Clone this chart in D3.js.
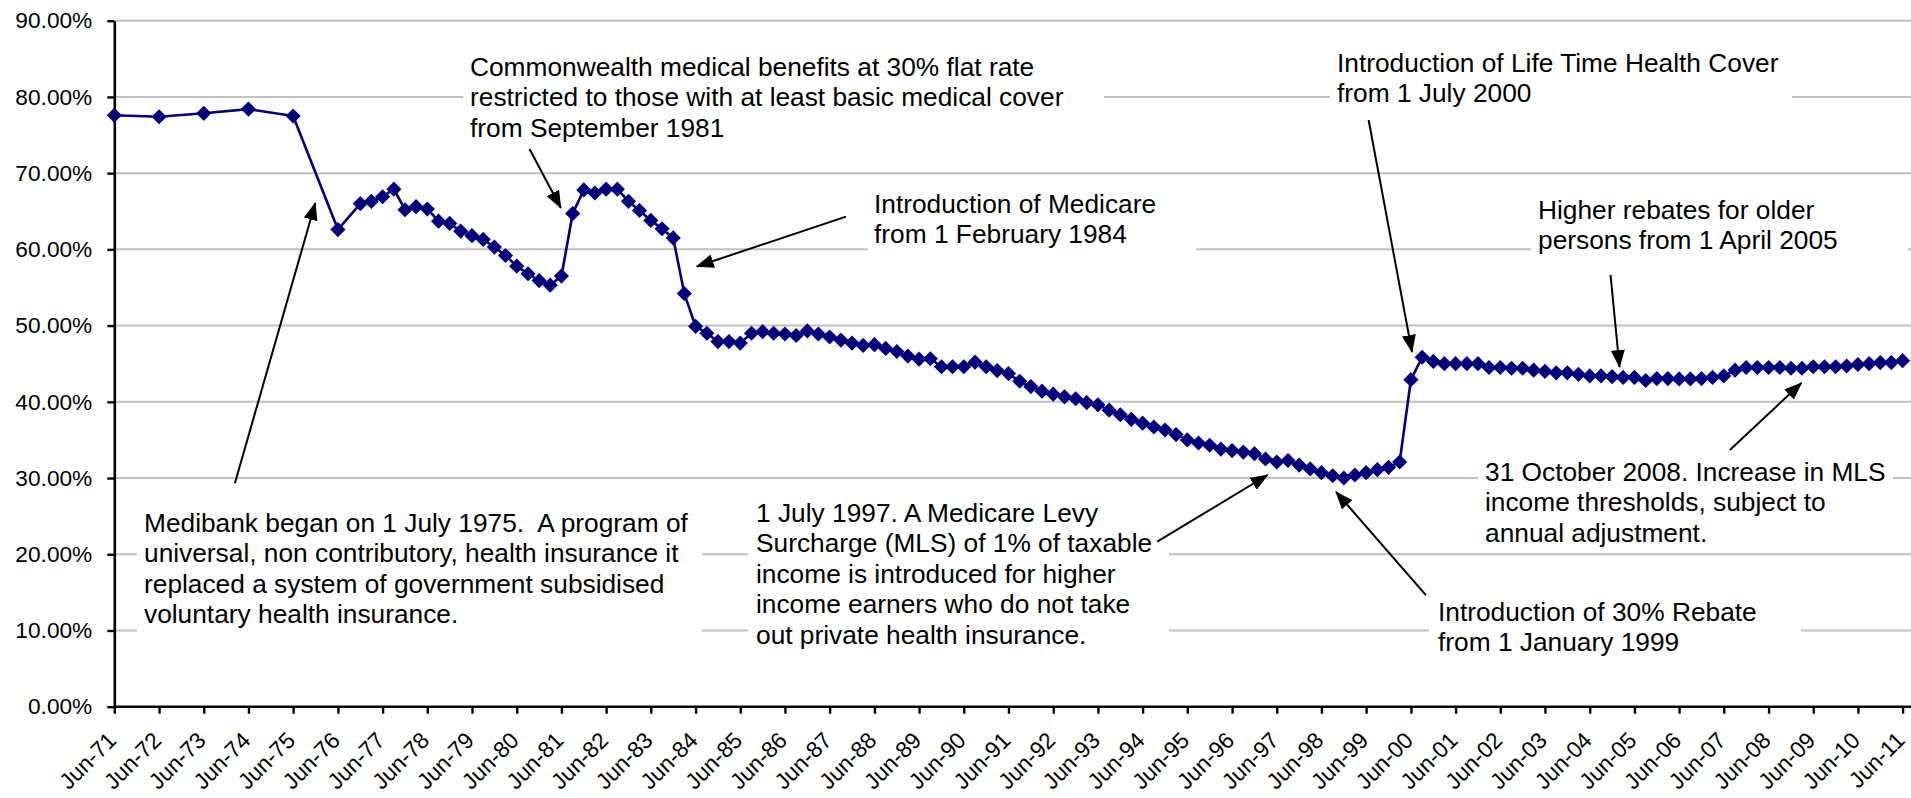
<!DOCTYPE html>
<html>
<head>
  <meta charset="utf-8">
  <title>Private health insurance coverage</title>
  <style>
    body { margin: 0; background: #fff; }
    text { font-family: "Liberation Sans", Arial, sans-serif; }
  </style>
</head>
<body>
  <svg id="main" width="1911" height="798"></svg>

  <script src="https://cdn.jsdelivr.net/npm/d3@7"></script>
  <script>

    // periods: annual to Jun-76, then quarterly
    const periods = [
      'Jun-71', 'Jun-72', 'Jun-73', 'Jun-74', 'Jun-75', 'Jun-76', 'Dec-76',
      'Mar-77', 'Jun-77', 'Sep-77', 'Dec-77',
      'Mar-78', 'Jun-78', 'Sep-78', 'Dec-78',
      'Mar-79', 'Jun-79', 'Sep-79', 'Dec-79',
      'Mar-80', 'Jun-80', 'Sep-80', 'Dec-80',
      'Mar-81', 'Jun-81', 'Sep-81', 'Dec-81',
      'Mar-82', 'Jun-82', 'Sep-82', 'Dec-82',
      'Mar-83', 'Jun-83', 'Sep-83', 'Dec-83',
      'Mar-84', 'Jun-84', 'Sep-84', 'Dec-84',
      'Mar-85', 'Jun-85', 'Sep-85', 'Dec-85',
      'Mar-86', 'Jun-86', 'Sep-86', 'Dec-86',
      'Mar-87', 'Jun-87', 'Sep-87', 'Dec-87',
      'Mar-88', 'Jun-88', 'Sep-88', 'Dec-88',
      'Mar-89', 'Jun-89', 'Sep-89', 'Dec-89',
      'Mar-90', 'Jun-90', 'Sep-90', 'Dec-90',
      'Mar-91', 'Jun-91', 'Sep-91', 'Dec-91',
      'Mar-92', 'Jun-92', 'Sep-92', 'Dec-92',
      'Mar-93', 'Jun-93', 'Sep-93', 'Dec-93',
      'Mar-94', 'Jun-94', 'Sep-94', 'Dec-94',
      'Mar-95', 'Jun-95', 'Sep-95', 'Dec-95',
      'Mar-96', 'Jun-96', 'Sep-96', 'Dec-96',
      'Mar-97', 'Jun-97', 'Sep-97', 'Dec-97',
      'Mar-98', 'Jun-98', 'Sep-98', 'Dec-98',
      'Mar-99', 'Jun-99', 'Sep-99', 'Dec-99',
      'Mar-00', 'Jun-00', 'Sep-00', 'Dec-00',
      'Mar-01', 'Jun-01', 'Sep-01', 'Dec-01',
      'Mar-02', 'Jun-02', 'Sep-02', 'Dec-02',
      'Mar-03', 'Jun-03', 'Sep-03', 'Dec-03',
      'Mar-04', 'Jun-04', 'Sep-04', 'Dec-04',
      'Mar-05', 'Jun-05', 'Sep-05', 'Dec-05',
      'Mar-06', 'Jun-06', 'Sep-06', 'Dec-06',
      'Mar-07', 'Jun-07', 'Sep-07', 'Dec-07',
      'Mar-08', 'Jun-08', 'Sep-08', 'Dec-08',
      'Mar-09', 'Jun-09', 'Sep-09', 'Dec-09',
      'Mar-10', 'Jun-10', 'Sep-10', 'Dec-10',
      'Mar-11', 'Jun-11'
    ]

    // % of population with hospital cover
    const coverage = [
      77.6, 77.4, 77.85, 78.4, 77.5, 62.6, 66.0,
      66.3, 66.9, 67.9, 65.2,
      65.6, 65.3, 63.7, 63.4,
      62.4, 61.8, 61.3, 60.3,
      59.2, 57.8, 56.8, 55.9,
      55.3, 56.5, 64.7, 67.8,
      67.4, 67.9, 67.9, 66.3,
      65.1, 63.8, 62.7, 61.5,
      54.2, 49.9, 49.0, 47.9,
      47.9, 47.7, 49.0, 49.2,
      49.0, 48.9, 48.7, 49.3,
      48.9, 48.5, 48.1, 47.7,
      47.4, 47.5, 47.0, 46.6,
      46.0, 45.6, 45.65, 44.6,
      44.6, 44.6, 45.2, 44.6,
      44.1, 43.7, 42.7, 42.0,
      41.4, 41.0, 40.65, 40.4,
      39.9, 39.6, 38.9, 38.3,
      37.7, 37.2, 36.7, 36.3,
      35.7, 35.0, 34.6, 34.3,
      33.8, 33.6, 33.4, 33.2,
      32.5, 32.1, 32.3, 31.7,
      31.2, 30.7, 30.3, 30.0,
      30.4, 30.7, 31.1, 31.4,
      32.1, 42.9, 45.85, 45.3,
      45.0, 45.0, 45.0, 45.0,
      44.5, 44.5, 44.4, 44.4,
      44.15, 44.0, 43.8, 43.8,
      43.6, 43.4, 43.4, 43.3,
      43.2, 43.2, 42.8, 43.05,
      43.05, 43.0, 43.0, 43.05,
      43.2, 43.4, 44.15, 44.5,
      44.5, 44.5, 44.5, 44.4,
      44.4, 44.6, 44.6, 44.6,
      44.7, 44.9, 45.0, 45.15,
      45.15, 45.4
    ]

    const xTickLabels = [
      'Jun-71', 'Jun-72', 'Jun-73', 'Jun-74', 'Jun-75', 'Jun-76', 'Jun-77', 'Jun-78',
      'Jun-79', 'Jun-80', 'Jun-81', 'Jun-82', 'Jun-83', 'Jun-84', 'Jun-85', 'Jun-86',
      'Jun-87', 'Jun-88', 'Jun-89', 'Jun-90', 'Jun-91', 'Jun-92', 'Jun-93', 'Jun-94',
      'Jun-95', 'Jun-96', 'Jun-97', 'Jun-98', 'Jun-99', 'Jun-00', 'Jun-01', 'Jun-02',
      'Jun-03', 'Jun-04', 'Jun-05', 'Jun-06', 'Jun-07', 'Jun-08', 'Jun-09', 'Jun-10',
      'Jun-11'
    ]

    const yTicks = [0, 10, 20, 30, 40, 50, 60, 70, 80, 90]

    // annotation texts
    const noteTexts = [
      ['Medibank began on 1 July 1975.  A program of',
        'universal, non contributory, health insurance it',
        'replaced a system of government subsidised',
        'voluntary health insurance.'],
      ['Commonwealth medical benefits at 30% flat rate',
        'restricted to those with at least basic medical cover',
        'from September 1981'],
      ['Introduction of Medicare',
        'from 1 February 1984'],
      ['1 July 1997. A Medicare Levy',
        'Surcharge (MLS) of 1% of taxable',
        'income is introduced for higher',
        'income earners who do not take',
        'out private health insurance.'],
      ['Introduction of Life Time Health Cover',
        'from 1 July 2000'],
      ['Higher rebates for older',
        'persons from 1 April 2005'],
      ['Introduction of 30% Rebate',
        'from 1 January 1999'],
      ['31 October 2008. Increase in MLS',
        'income thresholds, subject to',
        'annual adjustment.']
    ]

    // arrows in chart units: [decimal year, percent] from -> to
    const noteArrows = [
      [[1974.11, 29.31], [1975.91, 66.08]],
      [[1980.70, 73.17], [1981.40, 65.43]],
      [[1987.78, 64.29], [1984.44, 57.75]],
      [[1994.74, 21.65], [1997.21, 30.40]],
      [[1999.47, 76.97], [2000.44, 46.54]],
      [[2004.88, 56.64], [2005.08, 44.57]],
      [[2000.75, 14.65], [1998.74, 28.17]],
      [[2007.55, 33.68], [2009.15, 42.47]]
    ]

    // text box layout (pixels): text left, first baseline, white box
    const noteLayout = [
      { x: 144, y: 532, box: [137, 500, 702, 642] },
      { x: 470, y: 76, box: [463, 45, 1104, 150] },
      { x: 874, y: 213, box: [868, 184, 1196, 258] },
      { x: 756, y: 522, box: [748, 493, 1169, 656] },
      { x: 1337, y: 72, box: [1330, 42, 1792, 116] },
      { x: 1538, y: 219, box: [1531, 190, 1908, 260] },
      { x: 1438, y: 621, box: [1429, 592, 1801, 664] },
      { x: 1485, y: 481, box: [1478, 451, 1893, 552] }
    ]

    const svg = d3.select('#main')
    const plot = { left: 114.3, right: 1902.6, top: 20.7, bottom: 706.7, gridEnd: 1911 }
    const navy = '#000080'
    const axisFont = '22.7px'
    const noteFont = '26.3px'
    const lineGap = 30.4

    const parse = d3.timeParse('%b-%y')
    const data = periods.map((p, i) => ({ date: parse(p), value: coverage[i] }))

    const xScale = d3.scaleTime()
      .domain([parse(xTickLabels[0]), parse(xTickLabels[xTickLabels.length - 1])])
      .range([plot.left, plot.right])

    const yScale = d3.scaleLinear()
      .domain([0, 90])
      .range([plot.bottom, plot.top])

    function yearToDate(y) {
      const yr = Math.floor(y)
      const a = new Date(yr, 0, 1), b = new Date(yr + 1, 0, 1)
      return new Date(+a + (y - yr) * (b - a))
    }

    // arrowhead
    svg.append('defs').append('marker')
      .attr('id', 'head')
      .attr('viewBox', '0 0 18 14')
      .attr('refX', 17)
      .attr('refY', 7)
      .attr('markerWidth', 18)
      .attr('markerHeight', 14)
      .attr('markerUnits', 'userSpaceOnUse')
      .attr('orient', 'auto')
      .append('path')
      .attr('d', 'M0,0 L18,7 L0,14 Z')
      .attr('fill', '#000')

    // gridlines
    svg.append('g')
      .selectAll('line')
      .data(yTicks.filter(d => d > 0))
      .join('line')
      .attr('x1', plot.left)
      .attr('x2', plot.gridEnd)
      .attr('y1', d => yScale(d))
      .attr('y2', d => yScale(d))
      .attr('stroke', '#c0c0c0')
      .attr('stroke-width', 2)

    // white text boxes over the grid
    const notes = svg.append('g')
    noteLayout.forEach((n, i) => {
      const [x0, y0, x1, y1] = n.box
      notes.append('rect')
        .attr('x', x0).attr('y', y0)
        .attr('width', x1 - x0).attr('height', y1 - y0)
        .attr('fill', '#fff')
      const t = notes.append('text')
        .attr('font-size', noteFont)
        .attr('fill', '#000')
        .style('white-space', 'pre')
      t.selectAll('tspan')
        .data(noteTexts[i])
        .join('tspan')
        .attr('x', n.x)
        .attr('y', (d, j) => n.y + j * lineGap)
        .text(d => d)
    })

    // axes
    const yAxis = d3.axisLeft(yScale)
      .tickValues(yTicks)
      .tickFormat(d => d.toFixed(2) + '%')
      .tickSize(7)
      .tickSizeOuter(0)
      .tickPadding(15)

    const yg = svg.append('g')
      .attr('transform', `translate(${plot.left},0)`)
      .call(yAxis)

    const xAxis = d3.axisBottom(xScale)
      .tickValues(xTickLabels.map(parse))
      .tickFormat(d3.timeFormat('%b-%y'))
      .tickSize(7)
      .tickSizeOuter(0)

    const xg = svg.append('g')
      .attr('transform', `translate(0,${plot.bottom})`)
      .call(xAxis)

    xg.selectAll('.tick text')
      .attr('x', 0)
      .attr('y', 0)
      .attr('dy', null)
      .attr('text-anchor', 'end')
      .attr('transform', 'translate(3,35) rotate(-45)')

    xg.select('.domain').attr('d', `M${plot.left},0H${plot.gridEnd}`)

    for (const g of [xg, yg]) {
      g.selectAll('.domain').attr('stroke', '#000').attr('stroke-width', 2.6)
      g.selectAll('.tick line').attr('stroke', '#000').attr('stroke-width', 2.4)
      g.selectAll('.tick text')
        .attr('font-size', axisFont)
        .attr('font-family', '"Liberation Sans", Arial, sans-serif')
        .attr('fill', '#000')
    }

    // series
    const line = d3.line()
      .x(d => xScale(d.date))
      .y(d => yScale(d.value))

    svg.append('path')
      .datum(data)
      .attr('fill', 'none')
      .attr('stroke', navy)
      .attr('stroke-width', 2.6)
      .attr('stroke-linejoin', 'round')
      .attr('d', line)

    svg.append('g')
      .selectAll('path')
      .data(data)
      .join('path')
      .attr('d', d3.symbol(d3.symbolSquare, 115))
      .attr('transform', d => `translate(${xScale(d.date)},${yScale(d.value)}) rotate(45)`)
      .attr('fill', navy)

    // arrows
    svg.append('g')
      .selectAll('line')
      .data(noteArrows)
      .join('line')
      .attr('x1', d => xScale(yearToDate(d[0][0])))
      .attr('y1', d => yScale(d[0][1]))
      .attr('x2', d => xScale(yearToDate(d[1][0])))
      .attr('y2', d => yScale(d[1][1]))
      .attr('stroke', '#000')
      .attr('stroke-width', 2)
      .attr('marker-end', 'url(#head)')

  </script>
</body>
</html>
